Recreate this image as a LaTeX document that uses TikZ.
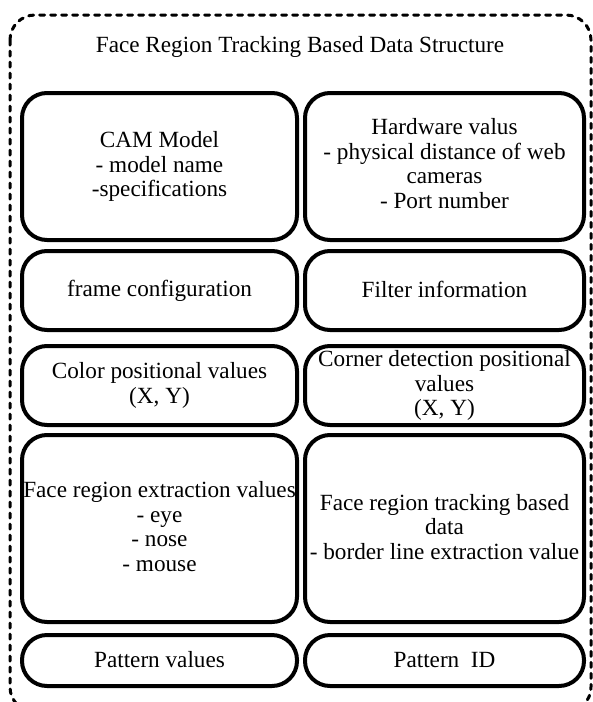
\documentclass[tikz,border=0pt]{standalone}
\usepackage{fontspec}
\setmainfont{Liberation Serif}
\begin{document}
\begin{tikzpicture}[x=1pt,y=-1pt,
  box/.style={draw=black, line width=4pt, rounded corners=25pt, align=center,
    inner sep=0pt, font=\fontsize{23.2}{24.5}\selectfont,
    execute at begin node={\rule{0pt}{17pt}}, execute at end node={\rule[-4pt]{0pt}{4pt}}},
  outer/.style={draw=black, line width=3pt, dash pattern=on 5pt off 6pt, line cap=round, rounded corners=25pt}]
\useasboundingbox (0,0) rectangle (593,702);
\draw[outer] (10,15) rectangle (591,712);
\node[font=\fontsize{23.2}{24.5}\selectfont, anchor=base] (title) at (300,52) {Face Region Tracking Based Data Structure};
% row 1
\node[box, minimum width=275pt, minimum height=147pt] (cam) at (159.5,166.5)
  {CAM Model\\- model name\\-specifications};
\node[box, minimum width=279pt, minimum height=147pt] (hw) at (444.5,166.5)
  {Hardware valus\\- physical distance of web\\cameras\\- Port number\rule[-6pt]{0pt}{6pt}};
% row 2
\node[box, minimum width=275pt, minimum height=79pt] (frame) at (159.5,290.5)
  {frame configuration};
\node[box, minimum width=279pt, minimum height=79pt] (filter) at (444.5,290.5)
  {Filter information};
% row 3
\node[box, minimum width=275pt, minimum height=79pt] (color) at (159.5,385.5)
  {Color positional values\\(X, Y)};
\node[box, minimum width=279pt, minimum height=79pt] (corner) at (444.5,385.5)
  {Corner detection positional\\values\\(X, Y)};
% row 4
\node[box, minimum width=275pt, minimum height=187pt] (extract) at (159.5,528.5)
  {Face region extraction values\\- eye\\- nose\\- mouse};
\node[box, minimum width=279pt, minimum height=187pt] (track) at (444.5,528.5)
  {Face region tracking based\\data\\- border line extraction value};
% row 5
\node[box, minimum width=275pt, minimum height=51pt] (pval) at (159.5,660.5)
  {Pattern values};
\node[box, minimum width=279pt, minimum height=51pt] (pid) at (444.5,660.5)
  {Pattern\ \ ID};
\end{tikzpicture}
\end{document}
